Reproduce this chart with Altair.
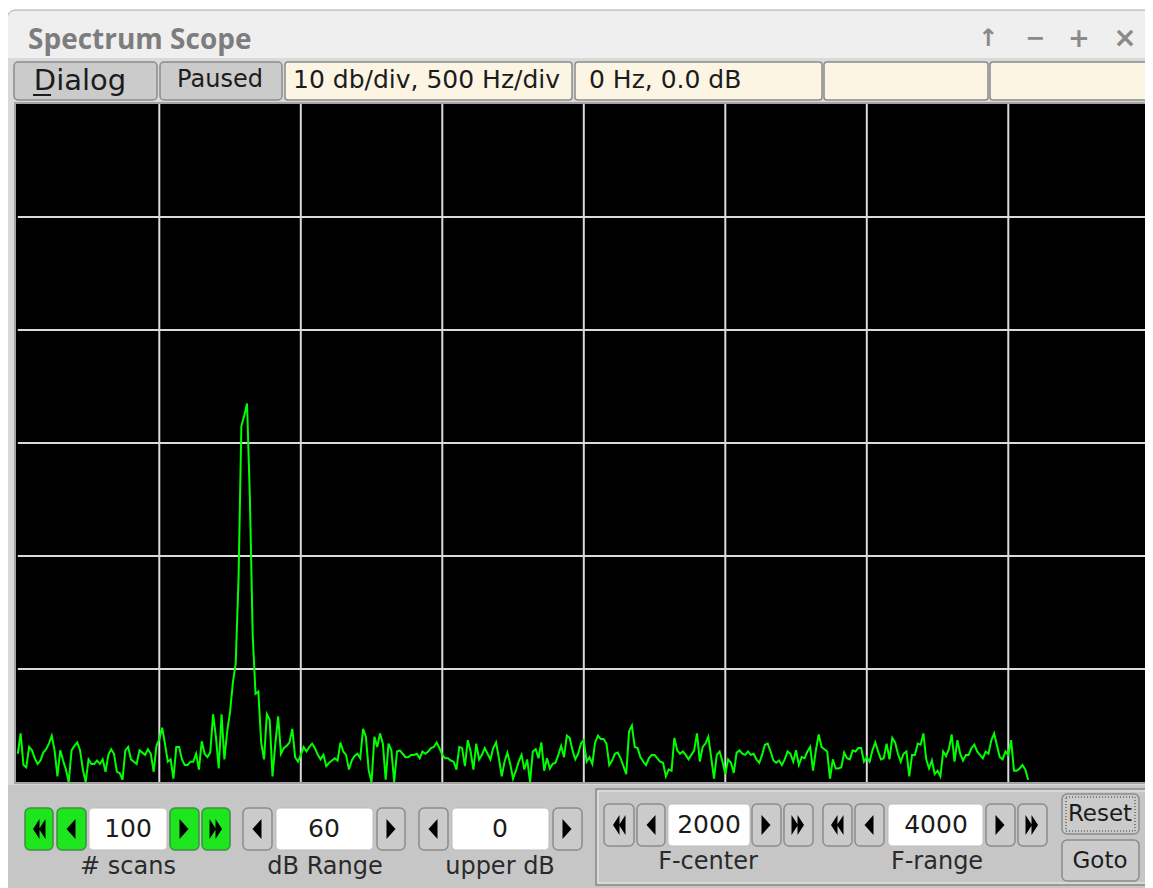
import altair as alt
import pandas as pd

# ---------------- chart values ----------------
BIN_HZ = 10
SPECTRUM_DB = [
    -57.5, -55.7, -58.5, -58.7, -56.9, -57.2, -57.9, -58.4, -58.1, -57.4,
    -57.1, -56.6, -55.9, -57.2, -59.5, -57.2, -58.1, -58.9, -60.0, -57.2,
    -56.8, -56.5, -57.2, -58.9, -60.0, -58.0, -58.4, -58.4, -58.1, -58.4,
    -58.0, -59.1, -57.6, -57.1, -57.5, -59.1, -59.2, -59.8, -57.2, -56.9,
    -58.0, -58.2, -58.4, -57.2, -57.4, -57.6, -57.1, -57.5, -59.1, -56.8,
    -56.2, -55.2, -56.6, -58.2, -58.0, -59.7, -56.9, -56.9, -58.0, -58.5,
    -58.5, -58.2, -58.2, -57.5, -58.9, -56.4, -57.5, -57.8, -57.4, -54.0,
    -56.0, -58.8, -54.0, -58.0, -55.5, -53.8, -51.2, -49.5, -42.0, -28.5,
    -27.6, -26.5, -34.8, -47.0, -52.2, -52.0, -56.5, -58.0, -54.0, -54.5,
    -59.5, -56.6, -54.2, -57.5, -57.0, -56.8, -56.5, -55.3, -57.8, -58.2,
    -57.6, -56.9, -57.3, -56.9, -56.6, -57.0, -57.6, -58.0, -57.6, -58.6,
    -58.3, -58.1, -57.9, -58.1, -56.5, -57.3, -57.6, -58.9, -58.1, -57.7,
    -57.5, -57.9, -55.3, -56.0, -59.0, -60.0, -56.0, -56.9, -55.7, -56.6,
    -59.8, -56.6, -57.2, -60.0, -57.3, -57.2, -57.5, -57.8, -57.8, -57.6,
    -57.6, -57.5, -57.9, -57.3, -57.5, -57.3, -57.0, -56.9, -56.5, -57.0,
    -57.6, -57.9, -57.9, -58.1, -58.2, -58.9, -56.9, -57.0, -58.6, -56.3,
    -57.3, -58.9, -56.6, -58.0, -57.6, -57.0, -57.5, -58.0, -57.0, -56.5,
    -57.9, -59.5, -58.2, -57.4, -58.4, -59.7, -59.0, -58.2, -57.6, -58.9,
    -58.0, -60.0, -57.3, -57.1, -57.9, -56.5, -59.0, -57.9, -58.8, -58.4,
    -58.3, -57.6, -56.8, -57.8, -55.9, -56.1, -57.2, -58.0, -57.5, -56.6,
    -56.3, -58.2, -57.8, -58.4, -56.5, -55.9, -56.2, -56.2, -56.6, -58.5,
    -58.1, -57.5, -57.4, -57.9, -58.6, -59.3, -55.5, -55.0, -56.9, -57.0,
    -57.8, -58.2, -58.5, -57.9, -57.6, -57.6, -57.9, -58.2, -58.3, -59.5,
    -58.9, -59.0, -56.1, -57.2, -57.5, -57.3, -57.6, -58.0, -57.6, -57.2,
    -55.7, -58.2, -56.9, -56.6, -56.0, -57.8, -59.7, -57.6, -57.3, -58.2,
    -59.3, -58.0, -58.3, -59.2, -57.4, -57.2, -57.5, -57.6, -57.3, -57.6,
    -57.5, -58.0, -58.3, -57.6, -56.7, -56.6, -57.3, -58.1, -58.3, -58.1,
    -58.5, -58.0, -57.3, -57.5, -58.2, -57.2, -58.5, -57.8, -57.9, -57.3,
    -56.9, -59.0, -57.2, -55.8, -56.9, -57.1, -57.3, -59.7, -58.0, -58.8,
    -58.8, -58.7, -57.4, -57.9, -58.0, -57.2, -57.3, -57.0, -57.0, -58.2,
    -57.8, -58.2, -57.2, -56.5, -57.3, -58.0, -57.9, -56.6, -58.0, -56.1,
    -56.5, -57.5, -58.2, -57.5, -57.3, -59.5, -57.6, -57.6, -56.6, -56.7,
    -55.7, -58.0, -58.8, -58.1, -59.3, -59.0, -59.5, -57.3, -57.7, -57.1,
    -55.8, -58.2, -56.3, -57.5, -58.1, -57.6, -57.6, -57.0, -56.7, -57.3,
    -57.6, -57.9, -57.3, -57.5, -56.3, -55.7, -56.8, -57.8, -58.0, -57.3,
    -57.6, -56.3, -59.0, -59.0, -58.8, -58.5, -58.9, -59.8,
]
GRID_HZ = [500, 1000, 1500, 2000, 2500, 3000, 3500]
GRID_DB = [-50, -40, -30, -20, -10]
HZ_DOMAIN = [0, 4000]
DB_DOMAIN = [-60, 0]

TITLE = "Spectrum Scope"
TOOLBAR_BUTTONS = ["Dialog", "Paused"]
STATUS_FIELDS = ["10 db/div, 500 Hz/div", "0 Hz, 0.0 dB"]
COUNTERS = ["100", "60", "0", "2000", "4000"]
COUNTER_LABELS = ["# scans", "dB Range", "upper dB", "F-center", "F-range"]

# ---------------- layout (page pixels) ----------------
OFF = 8
W, H = 1137, 880


def c(v):
    return v - OFF


xs = alt.Scale(domain=HZ_DOMAIN, range=[c(17.8), c(1149.8)], nice=False, zero=False)
ys = alt.Scale(domain=DB_DOMAIN, range=[c(782), c(104)], nice=False, zero=False)

spec = pd.DataFrame({"freq": [i * BIN_HZ for i in range(len(SPECTRUM_DB))],
                     "db": SPECTRUM_DB})


def rect_layer(rows, radius=0, **kw):
    df = pd.DataFrame(rows, columns=["x", "x2", "y", "y2", "fill", "stroke", "sw"])
    for col in ["x", "x2", "y", "y2"]:
        df[col] = df[col] - OFF
    return alt.Chart(df).mark_rect(cornerRadius=radius, **kw).encode(
        x=alt.X("x:Q", scale=None, axis=None), x2="x2:Q",
        y=alt.Y("y:Q", scale=None, axis=None), y2="y2:Q",
        color=alt.Color("fill:N", scale=None),
        stroke=alt.Stroke("stroke:N", scale=None),
        strokeWidth=alt.StrokeWidth("sw:Q", scale=None),
    )


def text_layer(rows, font="DejaVu Sans", weight="normal", align="center"):
    df = pd.DataFrame(rows, columns=["x", "y", "t", "size", "col"])
    df["x"] = df["x"] - OFF
    df["y"] = df["y"] - OFF
    return alt.Chart(df).mark_text(font=font, fontWeight=weight, align=align,
                                   baseline="middle").encode(
        x=alt.X("x:Q", scale=None, axis=None),
        y=alt.Y("y:Q", scale=None, axis=None),
        text="t:N",
        size=alt.Size("size:Q", scale=None),
        color=alt.Color("col:N", scale=None),
    )


BTN = "#cbcbcb"
BTN_EDGE = "#8c8c8c"
CREAM = "#fdf5e4"
GREEN = "#1ee61e"
GREEN_EDGE = "#3f8f3f"
TXT = "#1c1c1c"

window = rect_layer([(7, 1170, 10, 905, "#efefef", "#a6a6a6", 1)], radius=9)
body = rect_layer([
    (8, 1160, 58, 785, "#d9d9d9", "#d9d9d9", 0),
    (8, 1160, 785, 900, "#c6c6c6", "#c6c6c6", 0),
])
toolbar_btns = rect_layer([
    (14, 157, 62, 100, BTN, BTN_EDGE, 1.5),
    (160, 282, 62, 100, BTN, BTN_EDGE, 1.5),
], radius=4)
fields = rect_layer([
    (285, 572, 62, 100, CREAM, BTN_EDGE, 1.5),
    (575, 822, 62, 100, CREAM, BTN_EDGE, 1.5),
    (824, 988, 62, 100, CREAM, BTN_EDGE, 1.5),
    (990, 1170, 62, 100, CREAM, BTN_EDGE, 1.5),
], radius=3)
plot_bg = rect_layer([(15, 1151, 103, 783, "#000000", "#a3a3a3", 2)])
underline = rect_layer([(33, 51, 94, 96, TXT, TXT, 0)])

vgrid = alt.Chart(pd.DataFrame({"f": GRID_HZ})).mark_rule(color="#dadada", strokeWidth=2).encode(
    x=alt.X("f:Q", scale=xs, axis=None),
    y=alt.YDatum(DB_DOMAIN[0], scale=ys, axis=None),
    y2=alt.Y2Datum(DB_DOMAIN[1]),
)
hgrid = alt.Chart(pd.DataFrame({"d": GRID_DB})).mark_rule(color="#dadada", strokeWidth=2).encode(
    y=alt.Y("d:Q", scale=ys, axis=None),
    x=alt.XDatum(HZ_DOMAIN[0], scale=xs, axis=None),
    x2=alt.X2Datum(HZ_DOMAIN[1]),
)
line = alt.Chart(spec).mark_line(color="#00ff00", strokeWidth=2, interpolate="linear").encode(
    x=alt.X("freq:Q", scale=xs, axis=None),
    y=alt.Y("db:Q", scale=ys, axis=None),
)

green_btns = rect_layer([
    (25, 53, 808, 850, GREEN, GREEN_EDGE, 1.5),
    (57, 86, 808, 850, GREEN, GREEN_EDGE, 1.5),
    (170, 199, 808, 850, GREEN, GREEN_EDGE, 1.5),
    (202, 230, 808, 850, GREEN, GREEN_EDGE, 1.5),
], radius=5)
group_box = rect_layer([(596, 1149, 789, 885, "#c6c6c6", "#8a8a8a", 1.5)])
group_hl = rect_layer([(598, 1147, 791, 883, "#c6c6c6", "#ececec", 1)], fillOpacity=0)
white_fields = rect_layer([
    (89, 167, 808, 850, "#ffffff", "#bcbcbc", 1),
    (276, 373, 808, 850, "#ffffff", "#bcbcbc", 1),
    (452, 549, 808, 850, "#ffffff", "#bcbcbc", 1),
    (668, 750, 804, 846, "#ffffff", "#bcbcbc", 1),
    (888, 983, 804, 846, "#ffffff", "#bcbcbc", 1),
], radius=4)
gray_btns = rect_layer([
    (243, 272, 808, 850, BTN, BTN_EDGE, 1.5),
    (377, 405, 808, 850, BTN, BTN_EDGE, 1.5),
    (419, 448, 808, 850, BTN, BTN_EDGE, 1.5),
    (553, 582, 808, 850, BTN, BTN_EDGE, 1.5),
    (604, 634, 804, 846, BTN, BTN_EDGE, 1.5),
    (637, 665, 804, 846, BTN, BTN_EDGE, 1.5),
    (752, 781, 804, 846, BTN, BTN_EDGE, 1.5),
    (784, 813, 804, 846, BTN, BTN_EDGE, 1.5),
    (823, 852, 804, 846, BTN, BTN_EDGE, 1.5),
    (855, 884, 804, 846, BTN, BTN_EDGE, 1.5),
    (986, 1015, 804, 846, BTN, BTN_EDGE, 1.5),
    (1018, 1047, 804, 846, BTN, BTN_EDGE, 1.5),
    (1062, 1139, 794, 834, BTN, BTN_EDGE, 1.5),
    (1062, 1139, 840, 881, BTN, BTN_EDGE, 1.5),
], radius=5)
focus = rect_layer([(1066, 1135, 797, 831, "#c6c6c6", "#333333", 1)],
                   fillOpacity=0, strokeDash=[1, 2])

title_txt = text_layer([(28, 41, TITLE, 28, "#7d7d7d")], font="Open Sans", weight="bold", align="left")
icons_txt = text_layer([
    (988, 39, "↑", 24, "#8a8a8a"),
    (1035, 39, "−", 24, "#8a8a8a"),
    (1079, 39, "+", 26, "#8a8a8a"),
    (1125, 39, "×", 28, "#8a8a8a"),
], weight="bold")
center_txt = text_layer([
    (80, 81, TOOLBAR_BUTTONS[0], 29, TXT),
    (220, 80, TOOLBAR_BUTTONS[1], 24, TXT),
    (128, 829, COUNTERS[0], 25, TXT),
    (324, 829, COUNTERS[1], 25, TXT),
    (500, 829, COUNTERS[2], 25, TXT),
    (709, 825, COUNTERS[3], 25, TXT),
    (936, 825, COUNTERS[4], 25, TXT),
    (128, 867, COUNTER_LABELS[0], 24, "#2a2a2a"),
    (325, 867, COUNTER_LABELS[1], 24, "#2a2a2a"),
    (500, 867, COUNTER_LABELS[2], 24, "#2a2a2a"),
    (708, 862, COUNTER_LABELS[3], 24, "#2a2a2a"),
    (937, 862, COUNTER_LABELS[4], 24, "#2a2a2a"),
    (1100, 814, "Reset", 23, TXT),
    (1100, 861, "Goto", 23, TXT),
])
left_txt = text_layer([
    (293, 80, STATUS_FIELDS[0], 25, TXT),
    (589, 80, STATUS_FIELDS[1], 25, TXT),
], align="left")

LEFT = "M0.45,-1L-0.45,0L0.45,1Z"
RIGHT = "M-0.45,-1L0.45,0L-0.45,1Z"
DLEFT = "M0.05,-1L-0.6,0L0.05,1Z M0.65,-1L0,0L0.65,1Z"
DRIGHT = "M-0.05,-1L0.6,0L-0.05,1Z M-0.65,-1L0,0L-0.65,1Z"
glyphs = pd.DataFrame([
    (39, 829, DLEFT), (71, 829, LEFT), (184, 829, RIGHT), (216, 829, DRIGHT),
    (257, 829, LEFT), (391, 829, RIGHT), (433, 829, LEFT), (567, 829, RIGHT),
    (619, 825, DLEFT), (651, 825, LEFT), (766, 825, RIGHT), (798, 825, DRIGHT),
    (837, 825, DLEFT), (869, 825, LEFT), (1000, 825, RIGHT), (1032, 825, DRIGHT),
], columns=["x", "y", "shape"])
glyphs["x"] = glyphs["x"] - OFF
glyphs["y"] = glyphs["y"] - OFF
glyph_layer = alt.Chart(glyphs).mark_point(filled=True, opacity=1, color="#000000", size=400,
                                           strokeWidth=0).encode(
    x=alt.X("x:Q", scale=None, axis=None),
    y=alt.Y("y:Q", scale=None, axis=None),
    shape=alt.Shape("shape:N", scale=None),
)

chart = alt.layer(
    window, body, toolbar_btns, fields, plot_bg, vgrid, hgrid, line,
    group_box, group_hl, green_btns, white_fields, gray_btns, focus, underline,
    title_txt, icons_txt, center_txt, left_txt, glyph_layer,
).resolve_scale(
    x="independent", y="independent", color="independent", size="independent",
    stroke="independent", strokeWidth="independent", shape="independent",
).properties(
    width=W, height=H, padding=0, autosize=alt.AutoSizeParams(type="none"),
).configure_view(stroke=None)

chart.save("out.html", embed_options={"renderer": "svg", "actions": False})
